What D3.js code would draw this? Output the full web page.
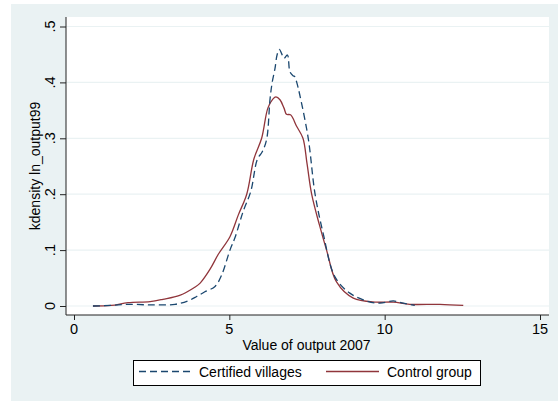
<!DOCTYPE html>
<html>
<head>
<meta charset="utf-8">
<script src="https://cdn.jsdelivr.net/npm/d3@7"></script>
<style>
  html, body { margin: 0; padding: 0; background: #fff; }
  svg { display: block; font-family: "Liberation Sans", Arial, Helvetica, sans-serif; }
</style>
</head>
<body>
<div id="chart"></div>
<script>
// kdensity ln_output99
const certX = [0.61, 1.2, 1.74, 2.45, 3.25, 3.67, 3.95, 4.2, 4.54, 4.75, 5.02, 5.18, 5.45, 5.69, 5.9, 6.06, 6.2, 6.31, 6.38, 6.47, 6.54, 6.61, 6.68, 6.76, 6.87, 6.95, 7.05, 7.11, 7.17, 7.27, 7.54, 7.76, 8.02, 8.4, 8.88, 9.42, 9.85, 10.28, 10.6, 10.97];
const certY = [0, 0.001, 0.003, 0.002, 0.003, 0.009, 0.017, 0.025, 0.035, 0.055, 0.1, 0.122, 0.17, 0.205, 0.262, 0.276, 0.298, 0.37, 0.4, 0.425, 0.45, 0.459, 0.452, 0.443, 0.449, 0.419, 0.412, 0.41, 0.4, 0.377, 0.3, 0.2, 0.13, 0.052, 0.023, 0.009, 0.005, 0.009, 0.005, 0.001];

const ctrlX = [0.61, 1.2, 1.74, 2.45, 2.86, 3.4, 3.9, 4.06, 4.38, 4.65, 5.02, 5.29, 5.56, 5.79, 6.04, 6.24, 6.4, 6.5, 6.63, 6.76, 6.84, 6.97, 7.17, 7.37, 7.5, 7.65, 7.9, 8.13, 8.45, 8.99, 9.74, 10.28, 10.81, 11.78, 12.53];
const ctrlY = [0, 0.001, 0.006, 0.008, 0.012, 0.019, 0.034, 0.041, 0.066, 0.093, 0.124, 0.163, 0.2, 0.263, 0.3, 0.354, 0.37, 0.374, 0.369, 0.354, 0.343, 0.342, 0.321, 0.3, 0.255, 0.2, 0.145, 0.1, 0.043, 0.014, 0.007, 0.007, 0.003, 0.003, 0.001];

const xTicks = [0, 5, 10, 15];
const yTicks = [0, 0.1, 0.2, 0.3, 0.4, 0.5];
const yTickLabels = ["0", ".1", ".2", ".3", ".4", ".5"];
const seriesNames = ["Certified villages", "Control group"];

const width = 558, height = 403;
const blue = "#1a476f", red = "#90353b", bg = "#eaf2f3";

const svg = d3.select("#chart").append("svg")
    .attr("width", width)
    .attr("height", height);

// Hintergrund (Stata s2color)
svg.append("rect")
    .attr("x", 11).attr("y", 4)
    .attr("width", width - 11).attr("height", 397)
    .attr("fill", bg);

// Plotbereich
const plot = {left: 66, right: 549, top: 17, bottom: 315};
svg.append("rect")
    .attr("x", plot.left).attr("y", plot.top)
    .attr("width", plot.right - plot.left).attr("height", plot.bottom - plot.top)
    .attr("fill", "#fff");

const x = d3.scaleLinear().domain([0, 15]).range([74, 540]);
const y = d3.scaleLinear().domain([0, 0.5]).range([306, 26.5]);

// Gitterlinien
svg.append("g")
    .selectAll("line")
    .data(yTicks)
    .join("line")
    .attr("x1", plot.left).attr("x2", plot.right)
    .attr("y1", d => y(d)).attr("y2", d => y(d))
    .attr("stroke", bg)
    .attr("stroke-width", 1.2);

// Achsen
const yAxis = svg.append("g")
    .attr("transform", `translate(${plot.left},0)`)
    .call(d3.axisLeft(y).tickValues(yTicks).tickSize(6).tickPadding(0).tickFormat(""));
yAxis.select(".domain").attr("d", `M0,${plot.top}V${plot.bottom}`);

const xAxis = svg.append("g")
    .attr("transform", `translate(0,${plot.bottom})`)
    .call(d3.axisBottom(x).tickValues(xTicks).tickSize(5).tickFormat(""));
xAxis.select(".domain").attr("d", `M${plot.left},0H${plot.right}`);

svg.selectAll(".domain, .tick line").attr("stroke", "#222").attr("stroke-width", 1);

// Achsenbeschriftungen
svg.append("g")
    .selectAll("text")
    .data(yTicks)
    .join("text")
    .attr("transform", d => `translate(55,${y(d)}) rotate(-90)`)
    .attr("text-anchor", "middle")
    .attr("font-size", 14.5)
    .attr("fill", "#000")
    .text((d, i) => yTickLabels[i]);

svg.append("g")
    .selectAll("text")
    .data(xTicks)
    .join("text")
    .attr("x", d => x(d)).attr("y", 334)
    .attr("text-anchor", "middle")
    .attr("font-size", 14.5)
    .attr("fill", "#000")
    .text(d => d);

svg.append("text")
    .attr("x", 306.5).attr("y", 350)
    .attr("text-anchor", "middle")
    .attr("font-size", 14)
    .text("Value of output 2007");

svg.append("text")
    .attr("transform", `translate(40,${(plot.top + plot.bottom) / 2}) rotate(-90)`)
    .attr("text-anchor", "middle")
    .attr("font-size", 14)
    .text("kdensity ln_output99");

// Linien
const line = d3.line()
    .x(d => x(d[0]))
    .y(d => y(d[1]))
    .curve(d3.curveCatmullRom.alpha(0.5));

svg.append("path")
    .datum(ctrlX.map((v, i) => [v, ctrlY[i]]))
    .attr("d", line)
    .attr("fill", "none")
    .attr("stroke", red)
    .attr("stroke-width", 1.3);

svg.append("path")
    .datum(certX.map((v, i) => [v, certY[i]]))
    .attr("d", line)
    .attr("fill", "none")
    .attr("stroke", blue)
    .attr("stroke-width", 1.3)
    .attr("stroke-dasharray", "7,4");

// Legende
const legend = svg.append("g");
legend.append("rect")
    .attr("x", 133.5).attr("y", 360.5)
    .attr("width", 347).attr("height", 25)
    .attr("fill", "#fff")
    .attr("stroke", "#000")
    .attr("stroke-width", 1);

const items = [
    {name: seriesNames[0], color: blue, dash: "7,4", x0: 139, x1: 192, tx: 199},
    {name: seriesNames[1], color: red, dash: null, x0: 326, x1: 379, tx: 387}
];
items.forEach(it => {
    legend.append("line")
        .attr("x1", it.x0).attr("x2", it.x1)
        .attr("y1", 371.5).attr("y2", 371.5)
        .attr("stroke", it.color)
        .attr("stroke-width", 1.3)
        .attr("stroke-dasharray", it.dash);
    legend.append("text")
        .attr("x", it.tx).attr("y", 377)
        .attr("font-size", 14)
        .text(it.name);
});
</script>
</body>
</html>
